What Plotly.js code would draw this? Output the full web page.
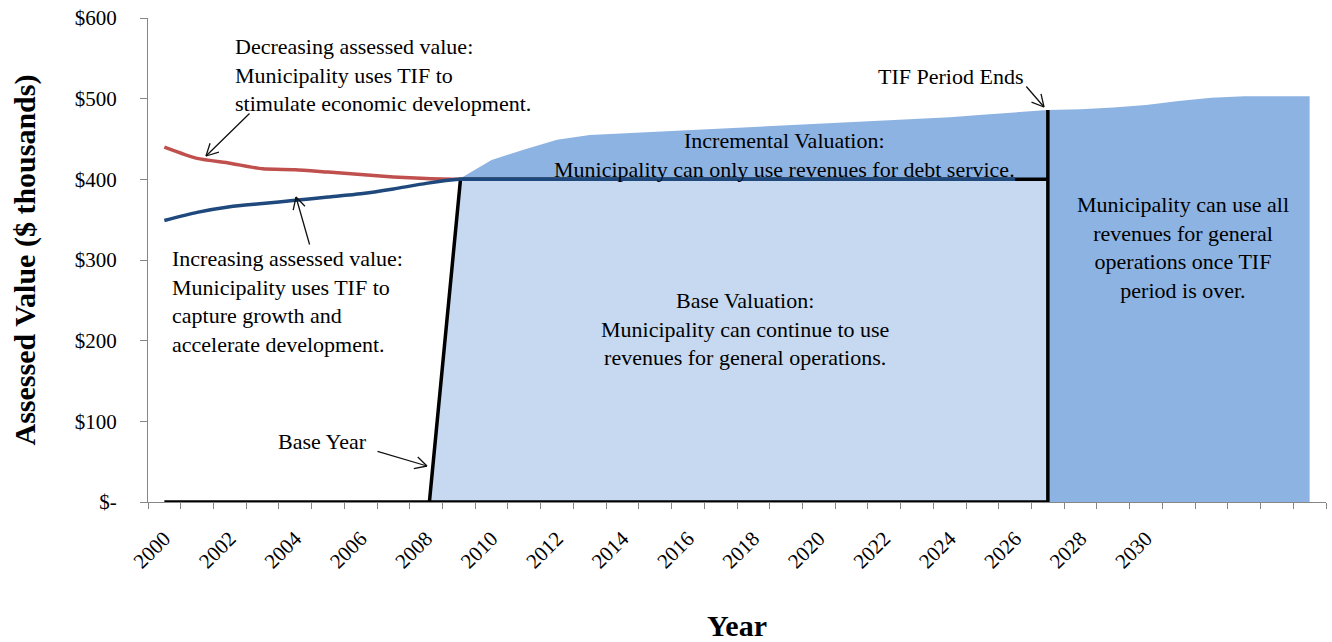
<!DOCTYPE html>
<html>
<head>
<meta charset="utf-8">
<script src="https://cdn.plot.ly/plotly-3.0.1.min.js"></script>
<style>html,body{margin:0;padding:0;background:#fff;}#chart{width:1332px;height:642px;}</style>
</head>
<body>
<div id="chart"></div>
<script>
// ---------------- DATA ----------------
const preYears = [2000, 2001, 2002, 2003, 2004, 2005, 2006, 2007, 2008, 2009];
const decreasingValue = [440, 426, 420, 413, 412, 409, 406, 403, 401, 400];
const increasingYears = [2000, 2001, 2002, 2003, 2004, 2005, 2006, 2007, 2008, 2009, 2010, 2011, 2012, 2013, 2014, 2015, 2016, 2017, 2018, 2019, 2020, 2021, 2022, 2023, 2024, 2025, 2026];
const increasingValue = [349, 359, 366, 370, 374, 378, 382, 388, 395, 400, 400, 400, 400, 400, 400, 400, 400, 400, 400, 400, 400, 400, 400, 400, 400, 400, 400];
const totalYears = [2009, 2010, 2011, 2012, 2013, 2014, 2015, 2016, 2017, 2018, 2019, 2020, 2021, 2022, 2023, 2024, 2025, 2026, 2027, 2028, 2029, 2030, 2031, 2032, 2033, 2034, 2035];
const totalValue = [400, 424, 437, 449, 455, 457, 459, 461, 463, 465, 467, 469, 471, 473, 475, 477, 480, 483, 486, 487, 489, 492, 497, 501, 503, 503, 503];
const baseValue = 400;
const baseYearStart = 2008.1;
const baseYearEnd = 2009.05;
const tifEndYear = 2027;
const tifEndValue = 486;
const firstYear = 2000;
const labelYears = [2000, 2002, 2004, 2006, 2008, 2010, 2012, 2014, 2016, 2018, 2020, 2022, 2024, 2026, 2028, 2030];
const yTickVals = [0, 100, 200, 300, 400, 500, 600];
const yTickText = ['$-', '$100', '$200', '$300', '$400', '$500', '$600'];

// ---------------- LAYOUT HELPERS ----------------
const PX0 = 148, PX1 = 1326, PY0 = 18, PY1 = 502;
const XMIN = 1999.5, XMAX = 2035.5, YMIN = 0, YMAX = 600;
function X(px) { return XMIN + (px - PX0) / (PX1 - PX0) * (XMAX - XMIN); }
function Y(py) { return YMIN + (PY1 - py) / (PY1 - PY0) * (YMAX - YMIN); }

const FONT = 'Liberation Serif, Times New Roman, serif';
const txtFont = {family: FONT, size: 22, color: '#000'};

function arrow(hx, hy, tx, ty) {
  const out = [];
  const base = {x: X(hx), y: Y(hy), xref: 'x', yref: 'y', text: '', showarrow: true,
    arrowhead: 0, arrowwidth: 1.3, arrowcolor: '#111', standoff: 0, startstandoff: 0};
  out.push(Object.assign({}, base, {ax: tx - hx, ay: ty - hy}));
  const dx = tx - hx, dy = ty - hy, L = Math.hypot(dx, dy);
  const ux = dx / L, uy = dy / L, len = 15, a = 28 * Math.PI / 180;
  [a, -a].forEach(t => {
    const rx = ux * Math.cos(t) - uy * Math.sin(t);
    const ry = ux * Math.sin(t) + uy * Math.cos(t);
    out.push(Object.assign({}, base, {ax: rx * len, ay: ry * len}));
  });
  return out;
}

const traces = [
  { // total value (incremental + post-TIF)
    x: totalYears, y: totalValue, type: 'scatter', mode: 'lines',
    line: {width: 0, color: '#8DB3E2'}, fill: 'tozeroy', fillcolor: '#8DB3E2', hoverinfo: 'skip'
  },
  { // base valuation
    x: [baseYearStart, baseYearEnd, tifEndYear, tifEndYear],
    y: [0, baseValue, baseValue, 0],
    type: 'scatter', mode: 'lines', line: {width: 0}, fill: 'toself', fillcolor: '#C6D9F1', hoverinfo: 'skip'
  },
  { // black outline
    x: [firstYear, tifEndYear, null, baseYearStart, baseYearEnd, tifEndYear, null, tifEndYear, tifEndYear],
    y: [0, 0, null, 0, baseValue, baseValue, null, 0, tifEndValue],
    type: 'scatter', mode: 'lines', line: {width: 3.5, color: '#000'}, connectgaps: false, hoverinfo: 'skip'
  },
  {
    x: preYears, y: decreasingValue, type: 'scatter', mode: 'lines',
    line: {width: 3.5, color: '#C0504D', shape: 'spline', smoothing: 0.6}, hoverinfo: 'skip'
  },
  {
    x: increasingYears, y: increasingValue, type: 'scatter', mode: 'lines',
    line: {width: 3.5, color: '#1F497D', shape: 'spline', smoothing: 0.6}, hoverinfo: 'skip'
  }
];

const annotations = [
  {x: X(233), y: Y(74.5), xanchor: 'left', yanchor: 'middle', align: 'left', showarrow: false,
   text: 'Decreasing assessed value:<br>Municipality uses TIF to<br>stimulate economic development.', font: txtFont},
  {x: X(170), y: Y(301.5), xanchor: 'left', yanchor: 'middle', align: 'left', showarrow: false,
   text: 'Increasing assessed value:<br>Municipality uses TIF to<br>capture growth and<br>accelerate development.', font: txtFont},
  {x: X(369), y: Y(441), xanchor: 'right', yanchor: 'middle', showarrow: false, text: 'Base Year', font: txtFont},
  {x: X(950), y: Y(76), xanchor: 'center', yanchor: 'middle', showarrow: false, text: 'TIF Period Ends', font: txtFont},
  {x: X(784), y: Y(154.5), xanchor: 'center', yanchor: 'middle', align: 'center', showarrow: false,
   text: 'Incremental Valuation:<br>Municipality can only use revenues for debt service.', font: txtFont},
  {x: X(745), y: Y(328.5), xanchor: 'center', yanchor: 'middle', align: 'center', showarrow: false,
   text: 'Base Valuation:<br>Municipality can continue to use<br>revenues for general operations.', font: txtFont},
  {x: X(1183), y: Y(247.5), xanchor: 'center', yanchor: 'middle', align: 'center', showarrow: false,
   text: 'Municipality can use all<br>revenues for general<br>operations once TIF<br>period is over.', font: txtFont}
].concat(
  arrow(206, 156, 251, 112),
  arrow(296, 197, 310, 246),
  arrow(427, 466, 376, 451),
  arrow(1044, 107, 1025, 85)
).map(a => Object.assign({xref: 'x', yref: 'y'}, a));

const layout = {
  width: 1332, height: 642,
  margin: {l: PX0, r: 1332 - PX1, t: PY0, b: 642 - PY1},
  paper_bgcolor: '#fff', plot_bgcolor: '#fff',
  showlegend: false,
  font: {family: FONT, color: '#000'},
  xaxis: {
    range: [XMIN, XMAX], showgrid: false, zeroline: false,
    showline: true, linecolor: '#868686', linewidth: 1,
    tickmode: 'array', tickvals: labelYears, ticktext: labelYears.map(String),
    ticks: '', tickangle: -45, ticklabelstandoff: 15,
    tickfont: {family: FONT, size: 21, color: '#000'},
    minor: {ticks: 'outside', ticklen: 6, tickcolor: '#868686', tickwidth: 1, tick0: 1999.5, dtick: 1, showgrid: false},
    title: {text: '<b>Year</b>', font: {family: FONT, size: 30, color: '#000'}, standoff: 47}
  },
  yaxis: {
    range: [YMIN, YMAX], showgrid: false, zeroline: false,
    showline: true, linecolor: '#868686', linewidth: 1,
    tickmode: 'array', tickvals: yTickVals, ticktext: yTickText,
    ticks: 'outside', ticklen: 7, tickcolor: '#868686', ticklabelstandoff: 19,
    tickfont: {family: FONT, size: 21, color: '#000'},
    title: {text: '<b>Assessed Value ($ thousands)</b>', font: {family: FONT, size: 30, color: '#000'}, standoff: 30}
  },
  annotations: annotations
};

Plotly.newPlot('chart', traces, layout, {staticPlot: true, displayModeBar: false});
</script>
</body>
</html>
